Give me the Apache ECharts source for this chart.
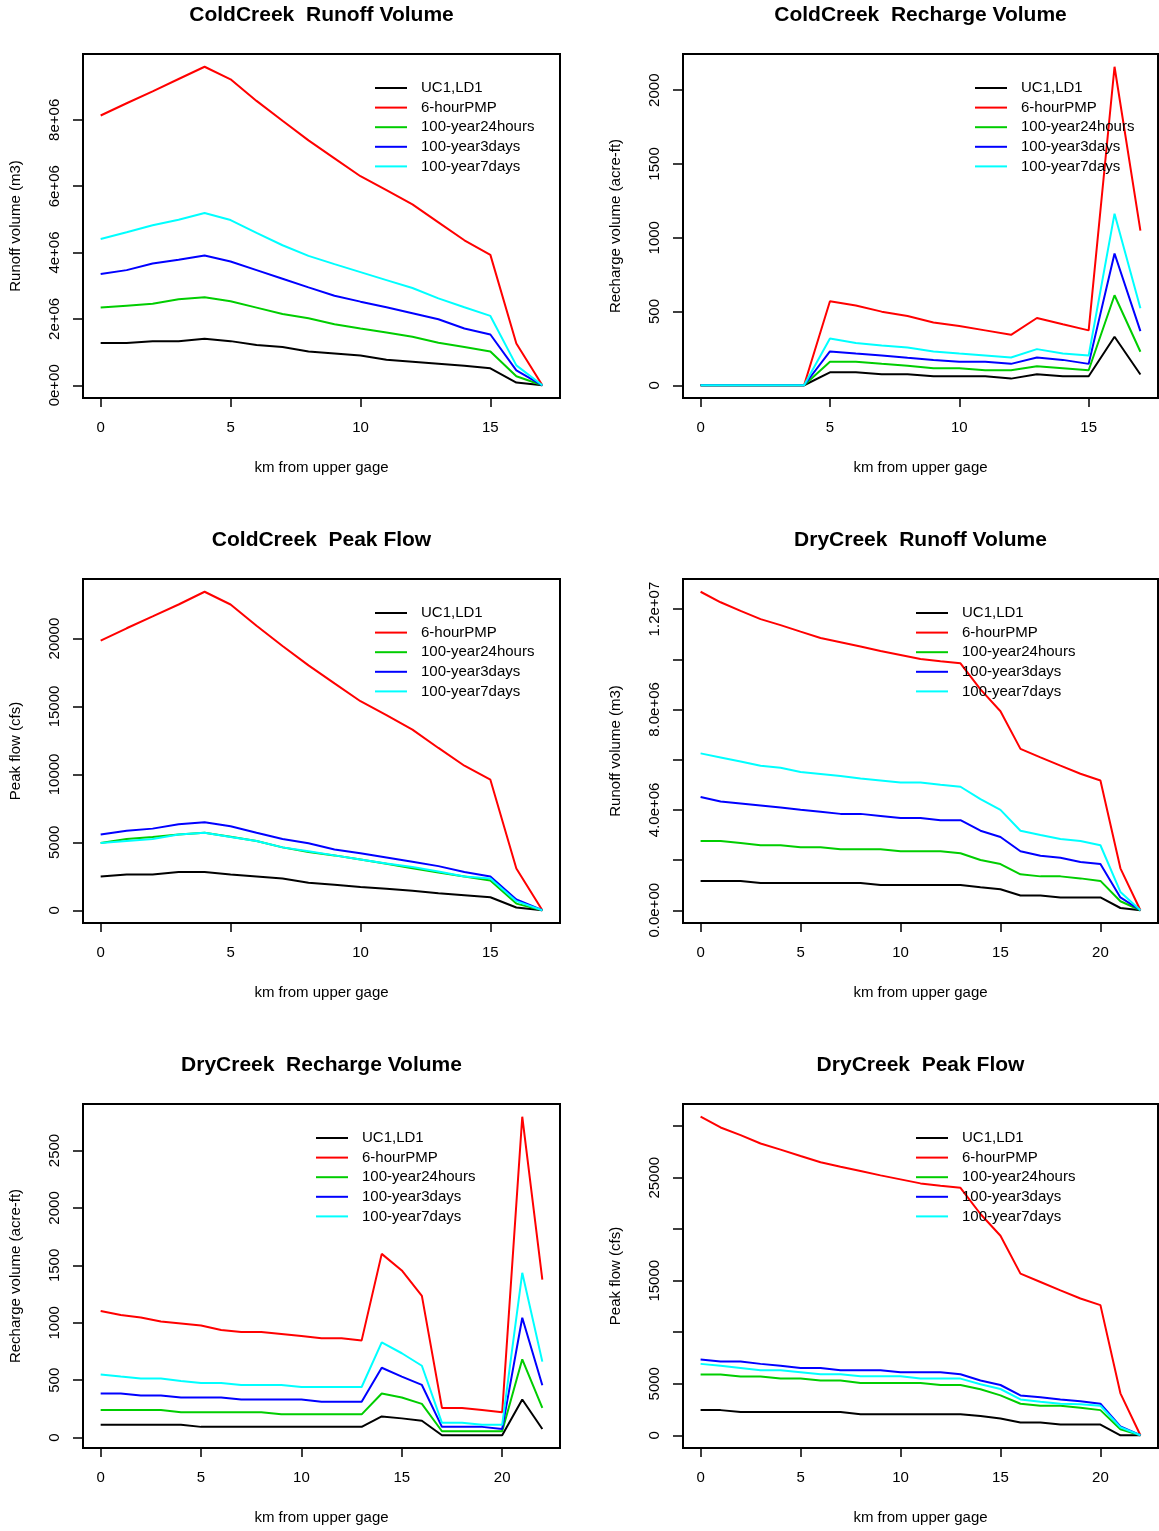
<!DOCTYPE html>
<html>
<head>
<meta charset="utf-8">
<script src="https://cdn.jsdelivr.net/npm/echarts@6/dist/echarts.min.js"></script>
<style>
html,body{margin:0;padding:0;background:#fff;}
#chart{width:1159px;height:1531px;}
</style>
</head>
<body>
<div id="chart"></div>
<script>
// ---------------- DATA ----------------
const seriesNames = ["UC1,LD1", "6-hourPMP", "100-year24hours", "100-year3days", "100-year7days"];
const seriesColors = ["#000000", "#FF0000", "#00CD00", "#0000FF", "#00FFFF"];

const coldKm = [0,1,2,3,4,5,6,7,8,9,10,11,12,13,14,15,16,17];
const dryKm = [0,1,2,3,4,5,6,7,8,9,10,11,12,13,14,15,16,17,18,19,20,21,22];

// ColdCreek Runoff Volume (m3)
const coldRunoffUC1 = [1.27e6,1.27e6,1.33e6,1.33e6,1.40e6,1.33e6,1.21e6,1.15e6,1.02e6,0.96e6,0.90e6,0.77e6,0.71e6,0.65e6,0.59e6,0.51e6,0.08e6,0];
const coldRunoffPMP = [8.13e6,8.50e6,8.86e6,9.23e6,9.60e6,9.22e6,8.57e6,7.97e6,7.38e6,6.84e6,6.30e6,5.88e6,5.45e6,4.91e6,4.37e6,3.93e6,1.26e6,0];
const coldRunoff24h = [2.34e6,2.40e6,2.46e6,2.59e6,2.65e6,2.53e6,2.34e6,2.15e6,2.02e6,1.84e6,1.71e6,1.59e6,1.46e6,1.28e6,1.15e6,1.02e6,0.27e6,0];
const coldRunoff3d = [3.35e6,3.47e6,3.67e6,3.78e6,3.91e6,3.73e6,3.47e6,3.21e6,2.95e6,2.70e6,2.52e6,2.35e6,2.17e6,1.99e6,1.71e6,1.53e6,0.45e6,0];
const coldRunoff7d = [4.41e6,4.61e6,4.82e6,4.99e6,5.19e6,4.98e6,4.59e6,4.22e6,3.90e6,3.65e6,3.41e6,3.17e6,2.93e6,2.62e6,2.35e6,2.09e6,0.60e6,0];

// ColdCreek Recharge Volume (acre-ft)
const coldRechargeUC1 = [0,0,0,0,0,88,88,75,75,61,61,61,45,75,61,61,329,73];
const coldRechargePMP = [0,0,0,0,0,569,540,499,469,426,401,372,342,456,413,372,2159,1048];
const coldRecharge24h = [0,0,0,0,0,159,159,145,132,116,116,102,102,129,116,102,610,227];
const coldRecharge3d = [0,0,0,0,0,229,215,202,186,172,159,159,145,188,172,145,893,367];
const coldRecharge7d = [0,0,0,0,0,317,286,270,256,229,215,202,188,245,215,202,1163,522];

// ColdCreek Peak Flow (cfs)
const coldPeakUC1 = [2490,2640,2640,2810,2810,2640,2490,2340,2020,1870,1720,1580,1430,1260,1110,960,200,0];
const coldPeakPMP = [19850,20760,21630,22510,23450,22510,20940,19460,18030,16700,15390,14360,13300,11950,10640,9610,3080,0];
const coldPeak24h = [4950,5250,5390,5570,5710,5420,5100,4630,4290,4040,3740,3420,3100,2780,2490,2190,490,0];
const coldPeak3d = [5570,5860,6010,6330,6480,6180,5710,5250,4930,4480,4190,3890,3570,3250,2810,2490,790,0];
const coldPeak7d = [4950,5100,5250,5570,5710,5390,5100,4630,4340,4040,3740,3450,3180,2860,2490,2340,670,0];

// DryCreek Runoff Volume (m3)
const dryRunoffUC1 = [1.17e6,1.17e6,1.17e6,1.09e6,1.09e6,1.09e6,1.09e6,1.09e6,1.09e6,1.01e6,1.01e6,1.01e6,1.01e6,1.01e6,0.92e6,0.84e6,0.59e6,0.59e6,0.51e6,0.51e6,0.51e6,0.09e6,0];
const dryRunoffPMP = [12.69e6,12.27e6,11.93e6,11.60e6,11.36e6,11.10e6,10.85e6,10.68e6,10.51e6,10.33e6,10.17e6,10.01e6,9.92e6,9.84e6,8.80e6,7.93e6,6.43e6,6.09e6,5.76e6,5.44e6,5.17e6,1.67e6,0];
const dryRunoff24h = [2.76e6,2.76e6,2.68e6,2.59e6,2.59e6,2.51e6,2.51e6,2.43e6,2.43e6,2.43e6,2.35e6,2.35e6,2.35e6,2.27e6,2.00e6,1.84e6,1.43e6,1.35e6,1.35e6,1.27e6,1.17e6,0.36e6,0];
const dryRunoff3d = [4.51e6,4.33e6,4.25e6,4.17e6,4.09e6,4.00e6,3.92e6,3.84e6,3.84e6,3.76e6,3.68e6,3.68e6,3.59e6,3.59e6,3.17e6,2.92e6,2.35e6,2.17e6,2.09e6,1.92e6,1.84e6,0.51e6,0];
const dryRunoff7d = [6.25e6,6.09e6,5.93e6,5.76e6,5.68e6,5.51e6,5.43e6,5.35e6,5.25e6,5.17e6,5.09e6,5.09e6,5.00e6,4.92e6,4.43e6,4.00e6,3.17e6,3.00e6,2.84e6,2.76e6,2.59e6,0.73e6,0];

// DryCreek Recharge Volume (acre-ft)
const dryRechargeUC1 = [112,112,112,112,112,94,94,94,94,94,94,94,94,94,185,168,147,21,21,21,21,332,76];
const dryRechargePMP = [1103,1068,1047,1012,994,976,938,921,921,903,885,865,865,847,1600,1456,1235,259,259,241,221,2794,1376];
const dryRecharge24h = [241,241,241,241,221,221,221,221,221,203,203,203,203,203,385,350,294,56,56,56,56,682,259];
const dryRecharge3d = [385,385,368,368,350,350,350,332,332,332,332,312,312,312,609,532,459,94,94,94,76,1044,456];
const dryRecharge7d = [550,532,515,515,494,476,476,459,459,459,441,441,441,441,829,735,626,129,129,112,112,1435,662];

// DryCreek Peak Flow (cfs)
const dryPeakUC1 = [2440,2440,2250,2250,2250,2250,2250,2250,2050,2050,2050,2050,2050,2050,1860,1630,1240,1240,1040,1040,1040,0,0];
const dryPeakPMP = [30920,29880,29130,28320,27730,27110,26500,26070,25650,25230,24840,24450,24220,24020,21480,19370,15690,14880,14060,13280,12630,4070,0];
const dryPeak24h = [5890,5890,5700,5700,5500,5500,5310,5310,5080,5080,5080,5080,4880,4880,4460,3870,3060,2860,2860,2670,2440,590,0];
const dryPeak3d = [7360,7160,7160,6930,6740,6540,6540,6320,6320,6320,6120,6120,6120,5920,5310,4880,3870,3680,3480,3290,3060,850,0];
const dryPeak7d = [6930,6740,6540,6320,6320,6120,5920,5920,5730,5730,5730,5500,5500,5500,4950,4490,3480,3260,3060,3000,2860,780,0];

// ---------------- TICKS / LABELS ----------------
const coldXTicks = [0,5,10,15];
const dryXTicks = [0,5,10,15,20];

const coldRunoffTicks = [0,2e6,4e6,6e6,8e6];
const coldRunoffLabelValues = [0,2e6,4e6,6e6,8e6];
const coldRunoffLabels = ["0e+00","2e+06","4e+06","6e+06","8e+06"];

const coldRechargeTicks = [0,500,1000,1500,2000];
const coldRechargeLabelValues = [0,500,1000,1500,2000];
const coldRechargeLabels = ["0","500","1000","1500","2000"];

const coldPeakTicks = [0,5000,10000,15000,20000];
const coldPeakLabelValues = [0,5000,10000,15000,20000];
const coldPeakLabels = ["0","5000","10000","15000","20000"];

const dryRunoffTicks = [0,2e6,4e6,6e6,8e6,10e6,12e6];
const dryRunoffLabelValues = [0,4e6,8e6,12e6];
const dryRunoffLabels = ["0.0e+00","4.0e+06","8.0e+06","1.2e+07"];

const dryRechargeTicks = [0,500,1000,1500,2000,2500];
const dryRechargeLabelValues = [0,500,1000,1500,2000,2500];
const dryRechargeLabels = ["0","500","1000","1500","2000","2500"];

const dryPeakTicks = [0,5000,10000,15000,20000,25000,30000];
const dryPeakLabelValues = [0,5000,15000,25000];
const dryPeakLabels = ["0","5000","15000","25000"];

// ---------------- LAYOUT ----------------
const FONT = "'Liberation Sans', Arial, Helvetica, sans-serif";
const colBoxes = [{left:83, width:477}, {left:683, width:475}];
const rowTops = [54, 579, 1104];
const boxH = 344;

const panels = [
  {title:"ColdCreek  Runoff Volume", ylab:"Runoff volume (m3)", km:coldKm, data:[coldRunoffUC1,coldRunoffPMP,coldRunoff24h,coldRunoff3d,coldRunoff7d], xt:coldXTicks, yt:coldRunoffTicks, ylv:coldRunoffLabelValues, yl:coldRunoffLabels, col:0, row:0, legX:292},
  {title:"ColdCreek  Recharge Volume", ylab:"Recharge volume (acre-ft)", km:coldKm, data:[coldRechargeUC1,coldRechargePMP,coldRecharge24h,coldRecharge3d,coldRecharge7d], xt:coldXTicks, yt:coldRechargeTicks, ylv:coldRechargeLabelValues, yl:coldRechargeLabels, col:1, row:0, legX:292},
  {title:"ColdCreek  Peak Flow", ylab:"Peak flow (cfs)", km:coldKm, data:[coldPeakUC1,coldPeakPMP,coldPeak24h,coldPeak3d,coldPeak7d], xt:coldXTicks, yt:coldPeakTicks, ylv:coldPeakLabelValues, yl:coldPeakLabels, col:0, row:1, legX:292},
  {title:"DryCreek  Runoff Volume", ylab:"Runoff volume (m3)", km:dryKm, data:[dryRunoffUC1,dryRunoffPMP,dryRunoff24h,dryRunoff3d,dryRunoff7d], xt:dryXTicks, yt:dryRunoffTicks, ylv:dryRunoffLabelValues, yl:dryRunoffLabels, col:1, row:1, legX:233},
  {title:"DryCreek  Recharge Volume", ylab:"Recharge volume (acre-ft)", km:dryKm, data:[dryRechargeUC1,dryRechargePMP,dryRecharge24h,dryRecharge3d,dryRecharge7d], xt:dryXTicks, yt:dryRechargeTicks, ylv:dryRechargeLabelValues, yl:dryRechargeLabels, col:0, row:2, legX:233},
  {title:"DryCreek  Peak Flow", ylab:"Peak flow (cfs)", km:dryKm, data:[dryPeakUC1,dryPeakPMP,dryPeak24h,dryPeak3d,dryPeak7d], xt:dryXTicks, yt:dryPeakTicks, ylv:dryPeakLabelValues, yl:dryPeakLabels, col:1, row:2, legX:233}
];

function padRange(lo, hi){ const p = (hi - lo) * 0.04; return [lo - p, hi + p]; }

const option = {
  animation: false,
  backgroundColor: "#ffffff",
  title: [], grid: [], xAxis: [], yAxis: [], legend: [], series: []
};

panels.forEach((p, i) => {
  const cb = colBoxes[p.col];
  const top = rowTops[p.row];
  option.title.push({
    text: p.title, left: cb.left + cb.width / 2, top: top - 49, textAlign: "center", padding: 0,
    textStyle: {fontFamily: FONT, fontSize: 21, fontWeight: "bold", color: "#000"}
  });
  option.grid.push({left: cb.left, top: top, width: cb.width, height: boxH, show: true,
    borderColor: "#000", borderWidth: 2, backgroundColor: "transparent", containLabel: false});
  const xr = padRange(Math.min(...p.km), Math.max(...p.km));
  const all = [].concat(...p.data);
  const yr = padRange(Math.min(...all), Math.max(...all));
  option.xAxis.push({
    type: "value", gridIndex: i, min: xr[0], max: xr[1], position: "bottom",
    name: "km from upper gage", nameLocation: "middle", nameGap: 62,
    nameTextStyle: {fontFamily: FONT, fontSize: 15, color: "#000"},
    axisLine: {show: false, onZero: false}, splitLine: {show: false},
    axisTick: {show: true, inside: false, length: 9, customValues: p.xt, lineStyle: {color: "#000", width: 1.5}},
    axisLabel: {show: true, customValues: p.xt, margin: 22, fontFamily: FONT, fontSize: 15, color: "#000"}
  });
  const lv = p.ylv, ll = p.yl;
  option.yAxis.push({
    type: "value", gridIndex: i, min: yr[0], max: yr[1], position: "left",
    name: p.ylab, nameLocation: "middle", nameGap: 60, nameRotate: 90,
    nameTextStyle: {fontFamily: FONT, fontSize: 15, color: "#000"},
    axisLine: {show: false, onZero: false}, splitLine: {show: false},
    axisTick: {show: true, inside: false, length: 10, customValues: p.yt, lineStyle: {color: "#000", width: 1.5}},
    axisLabel: {show: true, customValues: lv, rotate: 90, margin: 21, fontFamily: FONT, fontSize: 15, color: "#000",
      formatter: function(v){ const k = lv.indexOf(v); return k >= 0 ? ll[k] : ""; }}
  });
  option.legend.push({
    orient: "vertical", left: cb.left + p.legX, top: top + 26.5, padding: 0,
    itemWidth: 32, itemHeight: 2, itemGap: 4.6, icon: "rect",
    data: seriesNames,
    textStyle: {fontFamily: FONT, fontSize: 15, color: "#000", padding: [0, 0, 0, 9]},
    selectedMode: false
  });
  p.data.forEach((arr, s) => {
    option.series.push({
      type: "line", name: seriesNames[s], xAxisIndex: i, yAxisIndex: i,
      data: p.km.map((k, j) => [k, arr[j]]),
      symbol: "none", showSymbol: false,
      lineStyle: {color: seriesColors[s], width: 2},
      itemStyle: {color: seriesColors[s]},
      z: 2
    });
  });
});

const chart = echarts.init(document.getElementById("chart"), null, {renderer: "canvas"});
chart.setOption(option);
</script>
</body>
</html>
